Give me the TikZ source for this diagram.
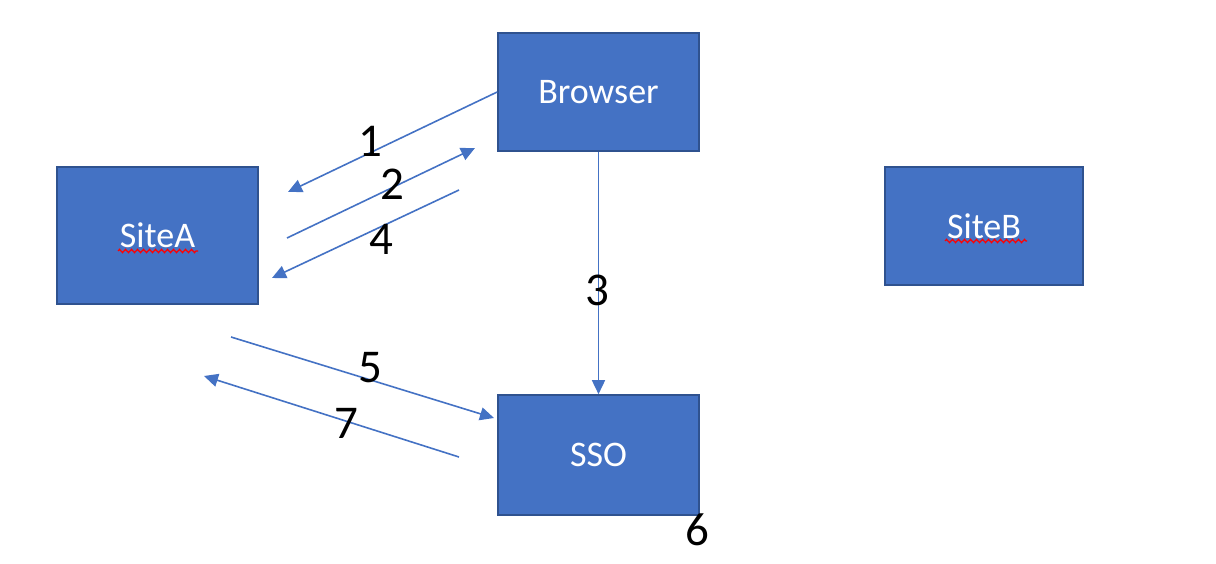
\documentclass[tikz,border=0pt]{standalone}
\usepackage{fontspec}
\setmainfont{Carlito}
\usepackage{tikz}
\usetikzlibrary{arrows.meta,positioning,decorations.pathmorphing}

\definecolor{boxblue}{HTML}{4472C4}
\definecolor{boxedge}{HTML}{2F528F}

\tikzset{
  site/.style={draw=boxedge,fill=boxblue,line width=1.6pt,minimum width=201pt,
    minimum height=118pt,inner sep=0pt,text=white,font=\fontsize{36}{40}\selectfont},
  flow/.style={draw=boxblue,line width=1.6pt,-{Triangle[length=14pt,width=13pt]}},
  num/.style={inner sep=0pt,font=\fontsize{47}{52}\selectfont},
  squiggle/.style={draw=red,line width=1.3pt,decorate,
    decoration={zigzag,segment length=6pt,amplitude=1.6pt}}
}

\begin{document}
\begin{tikzpicture}[x=1pt,y=-1pt]
\useasboundingbox (0,0) rectangle (1216,564);

\node[site] (browser) at (598.5,92) {Browser};
\node[site,minimum height=137pt] (sitea) at (157.5,235.5) {SiteA};
\node[site,minimum width=198pt] (siteb) at (984,226) {SiteB};
\node[site,minimum height=120pt] (sso) at (598.5,455) {SSO};

% spell check marks
\draw[squiggle] (118,251) -- (198,251);
\draw[squiggle] (945,241) -- (1027,241);

% loose ends of the arrows
\coordinate (a1) at (288,192);
\coordinate (b2) at (287,238);
\coordinate (e2) at (475,148);
\coordinate (b4) at (459,190);
\coordinate (e4) at (272,278);
\coordinate (b5) at (231,337);
\coordinate (e5) at (494,418);
\coordinate (b7) at (459,457);
\coordinate (e7) at (204,376);

\draw[flow] (browser.west) -- (a1);
\draw[flow] (b2) -- (e2);
\draw[flow] (browser.south) -- (sso.north);
\draw[flow] (b4) -- (e4);
\draw[flow] (b5) -- (e5);
\draw[flow] (b7) -- (e7);

\node[num] (n1) at (370,141) {1};
\node[num] (n2) at (392,184) {2};
\node[num] (n3) at (597,290) {3};
\node[num] (n4) at (381,239) {4};
\node[num] (n5) at (370,368) {5};
\node[num] (n6) at (697,530) {6};
\node[num] (n7) at (346,423) {7};
\end{tikzpicture}
\end{document}
